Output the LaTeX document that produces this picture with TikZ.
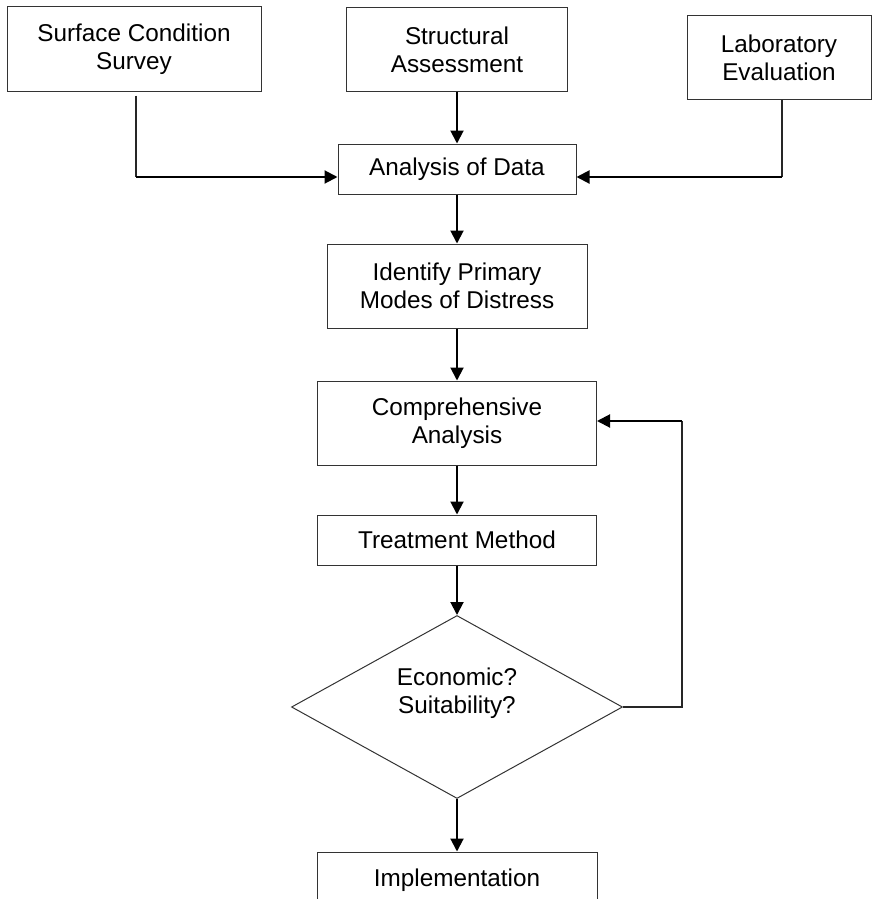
\documentclass[tikz,border=0pt]{standalone}
\usepackage{fontspec}
\setmainfont{Liberation Sans}
\usetikzlibrary{arrows.meta,shapes.geometric}
\tikzset{
  box/.style={draw=black!80, line width=1pt, align=center, inner sep=2pt},
  link/.style={line width=1.2pt, black!85},
  arr/.style={line width=2pt, -{Triangle[length=13pt,width=13pt]}},
}
\begin{document}
\begin{tikzpicture}[x=1pt, y=-1pt, font=\fontsize{24.3}{28}\selectfont]
    \useasboundingbox (0,0) rectangle (872,899);
    \clip (0,0) rectangle (872,899);

    % Input surveys
    \node[box, minimum width=254pt, minimum height=84pt] (surf) at (134,49) {Surface Condition\\Survey};
    \node[box, minimum width=221pt, minimum height=83pt] (struct) at (457,49.5) {Structural\\Assessment};
    \node[box, minimum width=184pt, minimum height=83pt] (lab) at (779,57.5) {Laboratory\\Evaluation};

    % Main chain
    \node[box, minimum width=238pt, minimum height=50pt] (data) at (457,169) {Analysis of Data};
    \node[box, minimum width=260pt, minimum height=84pt] (modes) at (457,286) {Identify Primary\\Modes of Distress};
    \node[box, minimum width=279pt, minimum height=84pt] (comp) at (457,423) {Comprehensive\\Analysis};
    \node[box, minimum width=279pt, minimum height=50pt] (treat) at (457,540) {Treatment Method};
    \node[box, diamond, aspect=1.8, inner sep=0pt, minimum width=331pt, minimum height=183pt] (econ) at (457,707) {Economic?\\Suitability?\\[4pt]};
    \node[box, minimum width=280pt, minimum height=56pt] (impl) at (457,880) {Implementation};

    % Side feeds into data analysis
    \coordinate (surfbend) at (136,177);
    \coordinate (labbend) at (782,177);
    \draw[link] ([yshift=-4pt]surf.south -| surfbend) -- (surfbend);
    \draw[arr] (surfbend) -- (surfbend -| data.west);
    \draw[link] (lab.south -| labbend) -- (labbend);
    \draw[arr] (labbend) -- (labbend -| data.east);

    % Vertical flow
    \draw[arr] (struct) -- (data);
    \draw[arr] (data) -- (modes);
    \draw[arr] (modes) -- (comp);
    \draw[arr] (comp) -- (treat);
    \draw[arr] (treat) -- (econ);
    \draw[arr] (econ) -- (impl);

    % Feedback loop
    \coordinate (loop) at (682,421);
    \draw[link] (econ.east) -| (loop);
    \draw[arr] (loop) -- (loop -| comp.east);
\end{tikzpicture}
\end{document}
